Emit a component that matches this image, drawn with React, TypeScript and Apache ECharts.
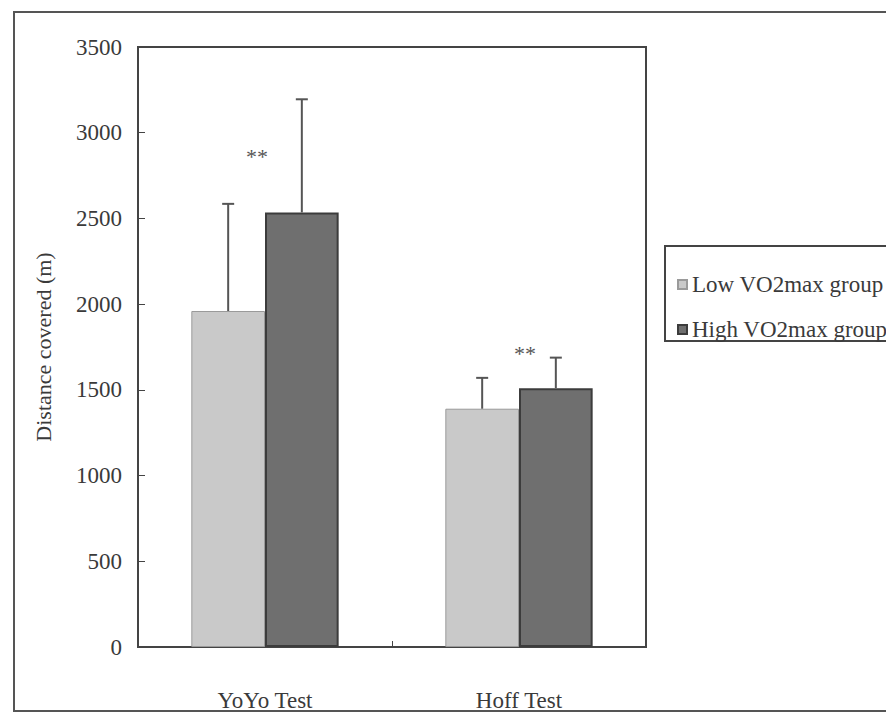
import React, { useEffect, useRef } from "react";
import * as echarts from "echarts";

const categories = ["YoYo Test", "Hoff Test"];
const seriesNames = ["Low VO2max group", "High VO2max group"];
const lowMeans = [1960, 1390];
const highMeans = [2535, 1510];
const lowErrTop = [2585, 1570];
const highErrTop = [3195, 1688];
const sigMarks = ["**", "**"];
const sigValues = [2860, 1715];
const yMin = 0;
const yMax = 3500;
const yStep = 500;

const FONT = "'Liberation Serif', 'DejaVu Serif', serif";
const TEXT = "#3a3a3a";
const CAT_GAP = 0.42;

export default function App() {
  const ref = useRef<HTMLDivElement>(null);
  useEffect(() => {
    if (!ref.current) return;
    const chart = echarts.init(ref.current, undefined, { renderer: "svg" });
    const errData: number[][] = [];
    categories.forEach((_, i) => {
      errData.push([i, lowMeans[i], lowErrTop[i], 0]);
      errData.push([i, highMeans[i], highErrTop[i], 1]);
    });
    const sigData = categories.map((_, i) => [i, sigValues[i]]);
    chart.setOption({
      animation: false,
      backgroundColor: "#fff",
      textStyle: { fontFamily: FONT },
      graphic: [
        {
          type: "rect",
          shape: { x: 14, y: 12, width: 900, height: 699 },
          style: { fill: "none", stroke: "#555", lineWidth: 2 },
          silent: true,
        },
        {
          type: "rect",
          shape: { x: 665, y: 246, width: 260, height: 95 },
          style: { fill: "#fff", stroke: "#444", lineWidth: 2 },
          silent: true,
          z: 0,
        },
      ],
      legend: {
        data: seriesNames,
        orient: "vertical",
        left: 672,
        top: 268,
        itemWidth: 9,
        itemHeight: 9,
        itemGap: 22,
        icon: "rect",
        textStyle: { fontFamily: FONT, fontSize: 23, color: TEXT },
        z: 5,
      },
      grid: {
        left: 138,
        top: 47,
        width: 508,
        height: 600,
        show: true,
        borderColor: "#444",
        borderWidth: 2,
        backgroundColor: "transparent",
      },
      xAxis: {
        type: "category",
        data: categories,
        axisLine: { show: true, lineStyle: { color: "#444", width: 2 } },
        axisTick: { show: true, inside: true, length: 6, lineStyle: { color: "#444" } },
        axisLabel: { fontFamily: FONT, fontSize: 23, color: TEXT, margin: 42 },
        splitLine: { show: false },
      },
      yAxis: {
        type: "value",
        min: yMin,
        max: yMax,
        interval: yStep,
        name: "Distance covered (m)",
        nameLocation: "middle",
        nameGap: 84,
        nameTextStyle: { fontFamily: FONT, fontSize: 22, color: TEXT },
        axisLine: { show: true, lineStyle: { color: "#444", width: 2 } },
        axisTick: { show: true, inside: true, length: 7, lineStyle: { color: "#444" } },
        axisLabel: {
          fontFamily: FONT,
          fontSize: 23,
          color: TEXT,
          margin: 16,
          formatter: (v: number) => String(v),
        },
        splitLine: { show: false },
      },
      series: [
        {
          name: seriesNames[0],
          type: "bar",
          data: lowMeans,
          barGap: "0%",
          barCategoryGap: CAT_GAP * 100 + "%",
          itemStyle: { color: "#c9c9c9", borderColor: "#9a9a9a", borderWidth: 1 },
        },
        {
          name: seriesNames[1],
          type: "bar",
          data: highMeans,
          barGap: "0%",
          barCategoryGap: CAT_GAP * 100 + "%",
          itemStyle: { color: "#6f6f6f", borderColor: "#3c3c3c", borderWidth: 2 },
        },
        {
          type: "custom",
          name: "err",
          data: errData,
          z: 10,
          renderItem: (params: any, api: any) => {
            const cat = api.value(0);
            const mean = api.value(1);
            const top = api.value(2);
            const grp = api.value(3);
            const band = api.size([1, 0])[0];
            const barW = (band * (1 - CAT_GAP)) / 2;
            const base = api.coord([cat, mean]);
            const x = base[0] + (grp === 0 ? -barW / 2 : barW / 2);
            const yTop = api.coord([cat, top])[1];
            return {
              type: "group",
              children: [
                { type: "line", shape: { x1: x, y1: base[1], x2: x, y2: yTop }, style: { stroke: "#555", lineWidth: 2 } },
                { type: "line", shape: { x1: x - 6, y1: yTop, x2: x + 6, y2: yTop }, style: { stroke: "#555", lineWidth: 2 } },
              ],
            };
          },
        },
        {
          type: "custom",
          name: "sig",
          data: sigData,
          z: 10,
          renderItem: (params: any, api: any) => {
            const cat = api.value(0);
            const p = api.coord([cat, api.value(1)]);
            const dx = cat === 0 ? -8 : 6;
            return {
              type: "text",
              x: p[0] + dx,
              y: p[1],
              style: {
                text: sigMarks[params.dataIndex],
                fontFamily: FONT,
                fontSize: 22,
                fill: "#555",
                align: "center",
                verticalAlign: "middle",
              },
            };
          },
        },
      ],
    });
    return () => chart.dispose();
  }, []);
  return (
    <div
      ref={ref}
      style={{ position: "absolute", left: 0, top: 0, width: 886, height: 714 }}
    />
  );
}
